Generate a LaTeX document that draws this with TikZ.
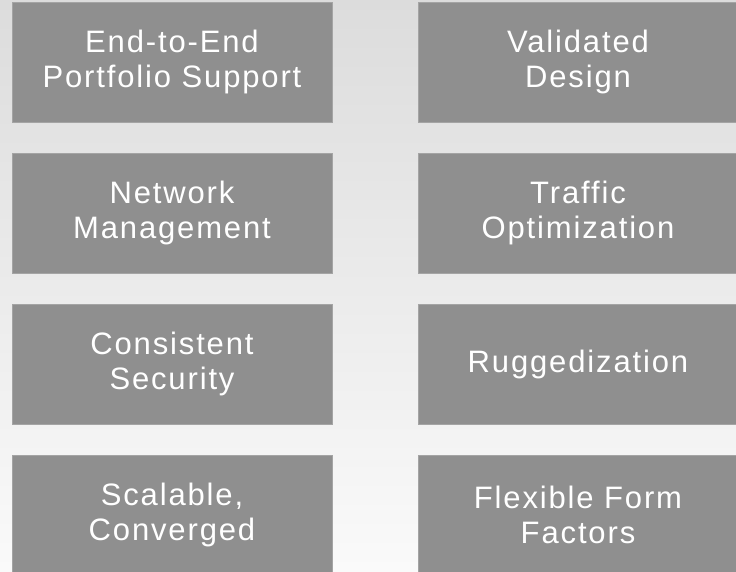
\documentclass[tikz,border=0pt]{standalone}
\usepackage{fontspec}
\setmainfont{Liberation Sans}
\usepackage{xcolor}
\definecolor{boxgray}{HTML}{8F8F8F}
\definecolor{boxedge}{HTML}{A4A4A4}
\definecolor{bgtop}{HTML}{DCDCDC}
\definecolor{bgbottom}{HTML}{FAFAFA}
\usepackage{tikz}

\tikzset{
    feature/.style={rectangle, fill=boxgray, draw=boxedge, line width=0.8pt,
        minimum width=320pt, minimum height=120pt, inner sep=0pt,
        align=center, text=white,
        font=\fontsize{31}{35}\selectfont\addfontfeature{LetterSpace=6}}
}

\begin{document}
\begin{tikzpicture}[x=1pt, y=1pt]
        \useasboundingbox (0, 0) rectangle (736, 571);
        \clip (0, 0) rectangle (736, 571);
        \shade[top color=bgtop, bottom color=bgbottom] (0, 0) rectangle (736, 571);
        % left column
        \node[feature] (portfolio) at (172, 509) {End-to-End\\Portfolio Support};
        \node[feature] (netmgmt) at (172, 358) {Network\\Management};
        \node[feature] (security) at (172, 207) {Consistent\\Security};
        \node[feature] (scalable) at (172, 56) {Scalable,\\Converged};
        % right column
        \node[feature] (validated) at (578, 509) {Validated\\Design};
        \node[feature] (traffic) at (578, 358) {Traffic\\Optimization};
        \node[feature] (rugged) at (578, 207) {Ruggedization};
        \node[feature] (formfactor) at (578, 56) {Flexible Form\\Factors};
    \end{tikzpicture}
\end{document}
